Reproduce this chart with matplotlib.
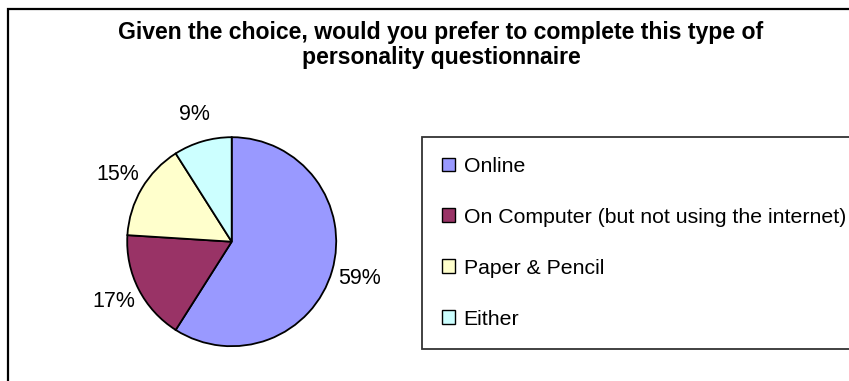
import matplotlib
matplotlib.use("Agg")
import matplotlib.pyplot as plt
from matplotlib.patches import Patch, Rectangle

# Survey responses (percent of respondents)
categories = ["Online", "On Computer (but not using the internet)", "Paper & Pencil", "Either"]
shares = [59, 17, 15, 9]
colors = ["#9999FF", "#993366", "#FFFFCC", "#CCFFFF"]
title = "Given the choice, would you prefer to complete this type of\npersonality questionnaire"

W, H = 849, 381
fig = plt.figure(figsize=(W / 100, H / 100), dpi=100)
fig.patch.set_facecolor("white")
plt.rcParams["font.family"] = ["Liberation Sans", "DejaVu Sans"]

# Chart-area border (runs off the right and bottom edges)
fig.add_artist(Rectangle((7.5 / W, -0.1), 1.2, (H - 9) / H + 0.1,
                         transform=fig.transFigure, fill=False,
                         edgecolor="black", linewidth=1.6, clip_on=False))

# Title
fig.text(441 / W, 1 - 45 / H, title, ha="center", va="center",
         fontsize=16.6, fontweight="bold", linespacing=1.12)

# Pie
cx, cy, half = 231.7, H - 241.7, 130
ax = fig.add_axes([(cx - half) / W, (cy - half) / H, 2 * half / W, 2 * half / H])
wedges, texts = ax.pie(shares, colors=colors, startangle=90, counterclock=False,
                       labels=[f"{v}%" for v in shares], labeldistance=1.27,
                       wedgeprops=dict(edgecolor="black", linewidth=1.3),
                       textprops=dict(fontsize=15.5))
for t in texts:
    t.set_ha("center")
    t.set_va("center")
lim = half / 104.5
ax.set_xlim(-lim, lim)
ax.set_ylim(-lim, lim)
ax.set_aspect("equal")
ax.axis("off")

# Legend
handles = [Patch(facecolor=c, edgecolor="black", linewidth=1.0) for c in colors]
leg = fig.legend(handles, categories, loc="upper left",
                 bbox_to_anchor=(421.7 / W, 1 - 136.7 / H), borderaxespad=0,
                 fontsize=15.3, frameon=True, fancybox=False, shadow=False,
                 borderpad=0.95, labelspacing=1.5, handlelength=0.62,
                 handleheight=0.62, handletextpad=0.4)
leg.get_frame().set_edgecolor("black")
leg.get_frame().set_linewidth(1.3)

fig.savefig("out.png", dpi=100)
